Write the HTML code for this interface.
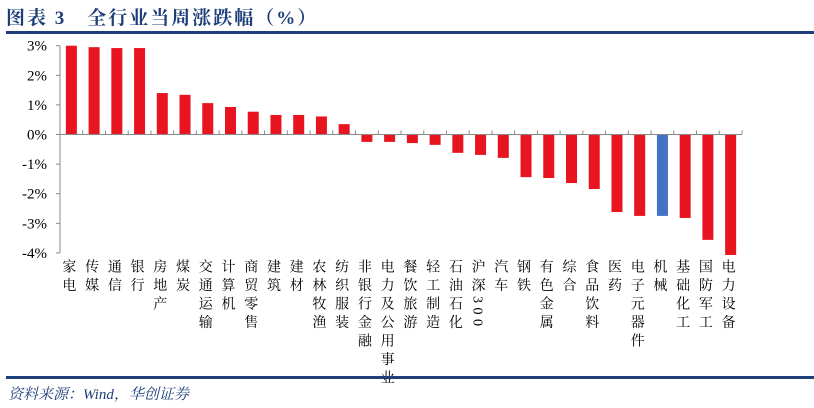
<!DOCTYPE html>
<html><head><meta charset="utf-8">
<style>
body{margin:0;width:814px;height:408px;background:#fff;position:relative;overflow:hidden;font-family:"Liberation Serif","Noto Serif CJK SC",serif;}
#title{position:absolute;left:6px;top:3px;font-size:19px;font-weight:bold;color:#1f3f7a;font-family:"Liberation Serif","Noto Serif CJK SC",serif;letter-spacing:2px;white-space:nowrap;}
.rule{position:absolute;left:6px;width:808px;height:3px;background:#1f3f7a;}
#src{position:absolute;left:8px;top:383px;font-size:15px;font-style:italic;color:#1f3f7a;white-space:nowrap;}
.xl{position:absolute;top:259px;writing-mode:vertical-rl;text-orientation:mixed;font-size:14px;letter-spacing:4.5px;line-height:14px;color:#000;}
svg{position:absolute;left:0;top:0;}
</style></head><body>
<div id="title">图表 3　全行业当周涨跌幅（%）</div>
<div class="rule" style="top:31px"></div>
<svg id="chart" width="814" height="408"></svg>
<div id="labels"></div>
<div class="rule" style="top:376px"></div>
<div id="src">资料来源：Wind，华创证券</div>
<script>
const categories=["家电","传媒","通信","银行","房地产","煤炭","交通运输","计算机","商贸零售","建筑","建材","农林牧渔","纺织服装","非银行金融","电力及公用事业","餐饮旅游","轻工制造","石油石化","沪深300","汽车","钢铁","有色金属","综合","食品饮料","医药","电子元器件","机械","基础化工","国防军工","电力设备"];
const values=[3.0,2.95,2.92,2.92,1.40,1.34,1.06,0.93,0.77,0.66,0.66,0.61,0.35,-0.25,-0.25,-0.29,-0.35,-0.62,-0.69,-0.79,-1.44,-1.47,-1.64,-1.84,-2.62,-2.75,-2.75,-2.82,-3.56,-4.07];
const highlight=["机械"];
const yTicks=[3,2,1,0,-1,-2,-3,-4];
const yTickLabels=["3%","2%","1%","0%","-1%","-2%","-3%","-4%"];

const NS="http://www.w3.org/2000/svg";
const svg=document.getElementById('chart');
const x0=60,x1=742,yTop=46,yZero=134.5,unit=29.6;
const y=v=>yZero-v*unit;
const band=(x1-x0)/categories.length;
const xc=i=>x0+band*(i+0.5);
function mk(t,a){const e=document.createElementNS(NS,t);for(const k in a)e.setAttribute(k,a[k]);svg.appendChild(e);return e;}
values.forEach((v,i)=>{
  const r=mk('rect',{x:xc(i)-5.5,y:Math.min(y(v),yZero),width:11,height:Math.abs(y(v)-yZero),fill:highlight.includes(categories[i])?'#4472c4':'#e8141f'});
  
  
});
const ya=mk('line',{x1:x0,y1:y(3),x2:x0,y2:y(-4),stroke:'#888','stroke-width':1});


yTicks.forEach((t,i)=>{
  mk('line',{x1:x0-4,y1:y(t),x2:x0,y2:y(t),stroke:'#888','stroke-width':1});
  const tx=mk('text',{x:x0-13,y:y(t)+5,'text-anchor':'end','font-size':15,'font-family':'Liberation Serif, serif',fill:'#000'});
  tx.textContent=yTickLabels[i];
  
  
});
const xa=mk('line',{x1:x0,y1:yZero,x2:x1,y2:yZero,stroke:'#888','stroke-width':1});


for(let i=0;i<=categories.length;i++){
  mk('line',{x1:x0+band*i,y1:yZero-4,x2:x0+band*i,y2:yZero,stroke:'#888','stroke-width':1});
}
const lab=document.getElementById('labels');
categories.forEach((c,i)=>{
  const d=document.createElement('div');
  d.className='xl';
  d.textContent=c;
  d.style.left=(xc(i)-11)+'px';
  
  
  lab.appendChild(d);
});
</script>
</body></html>
